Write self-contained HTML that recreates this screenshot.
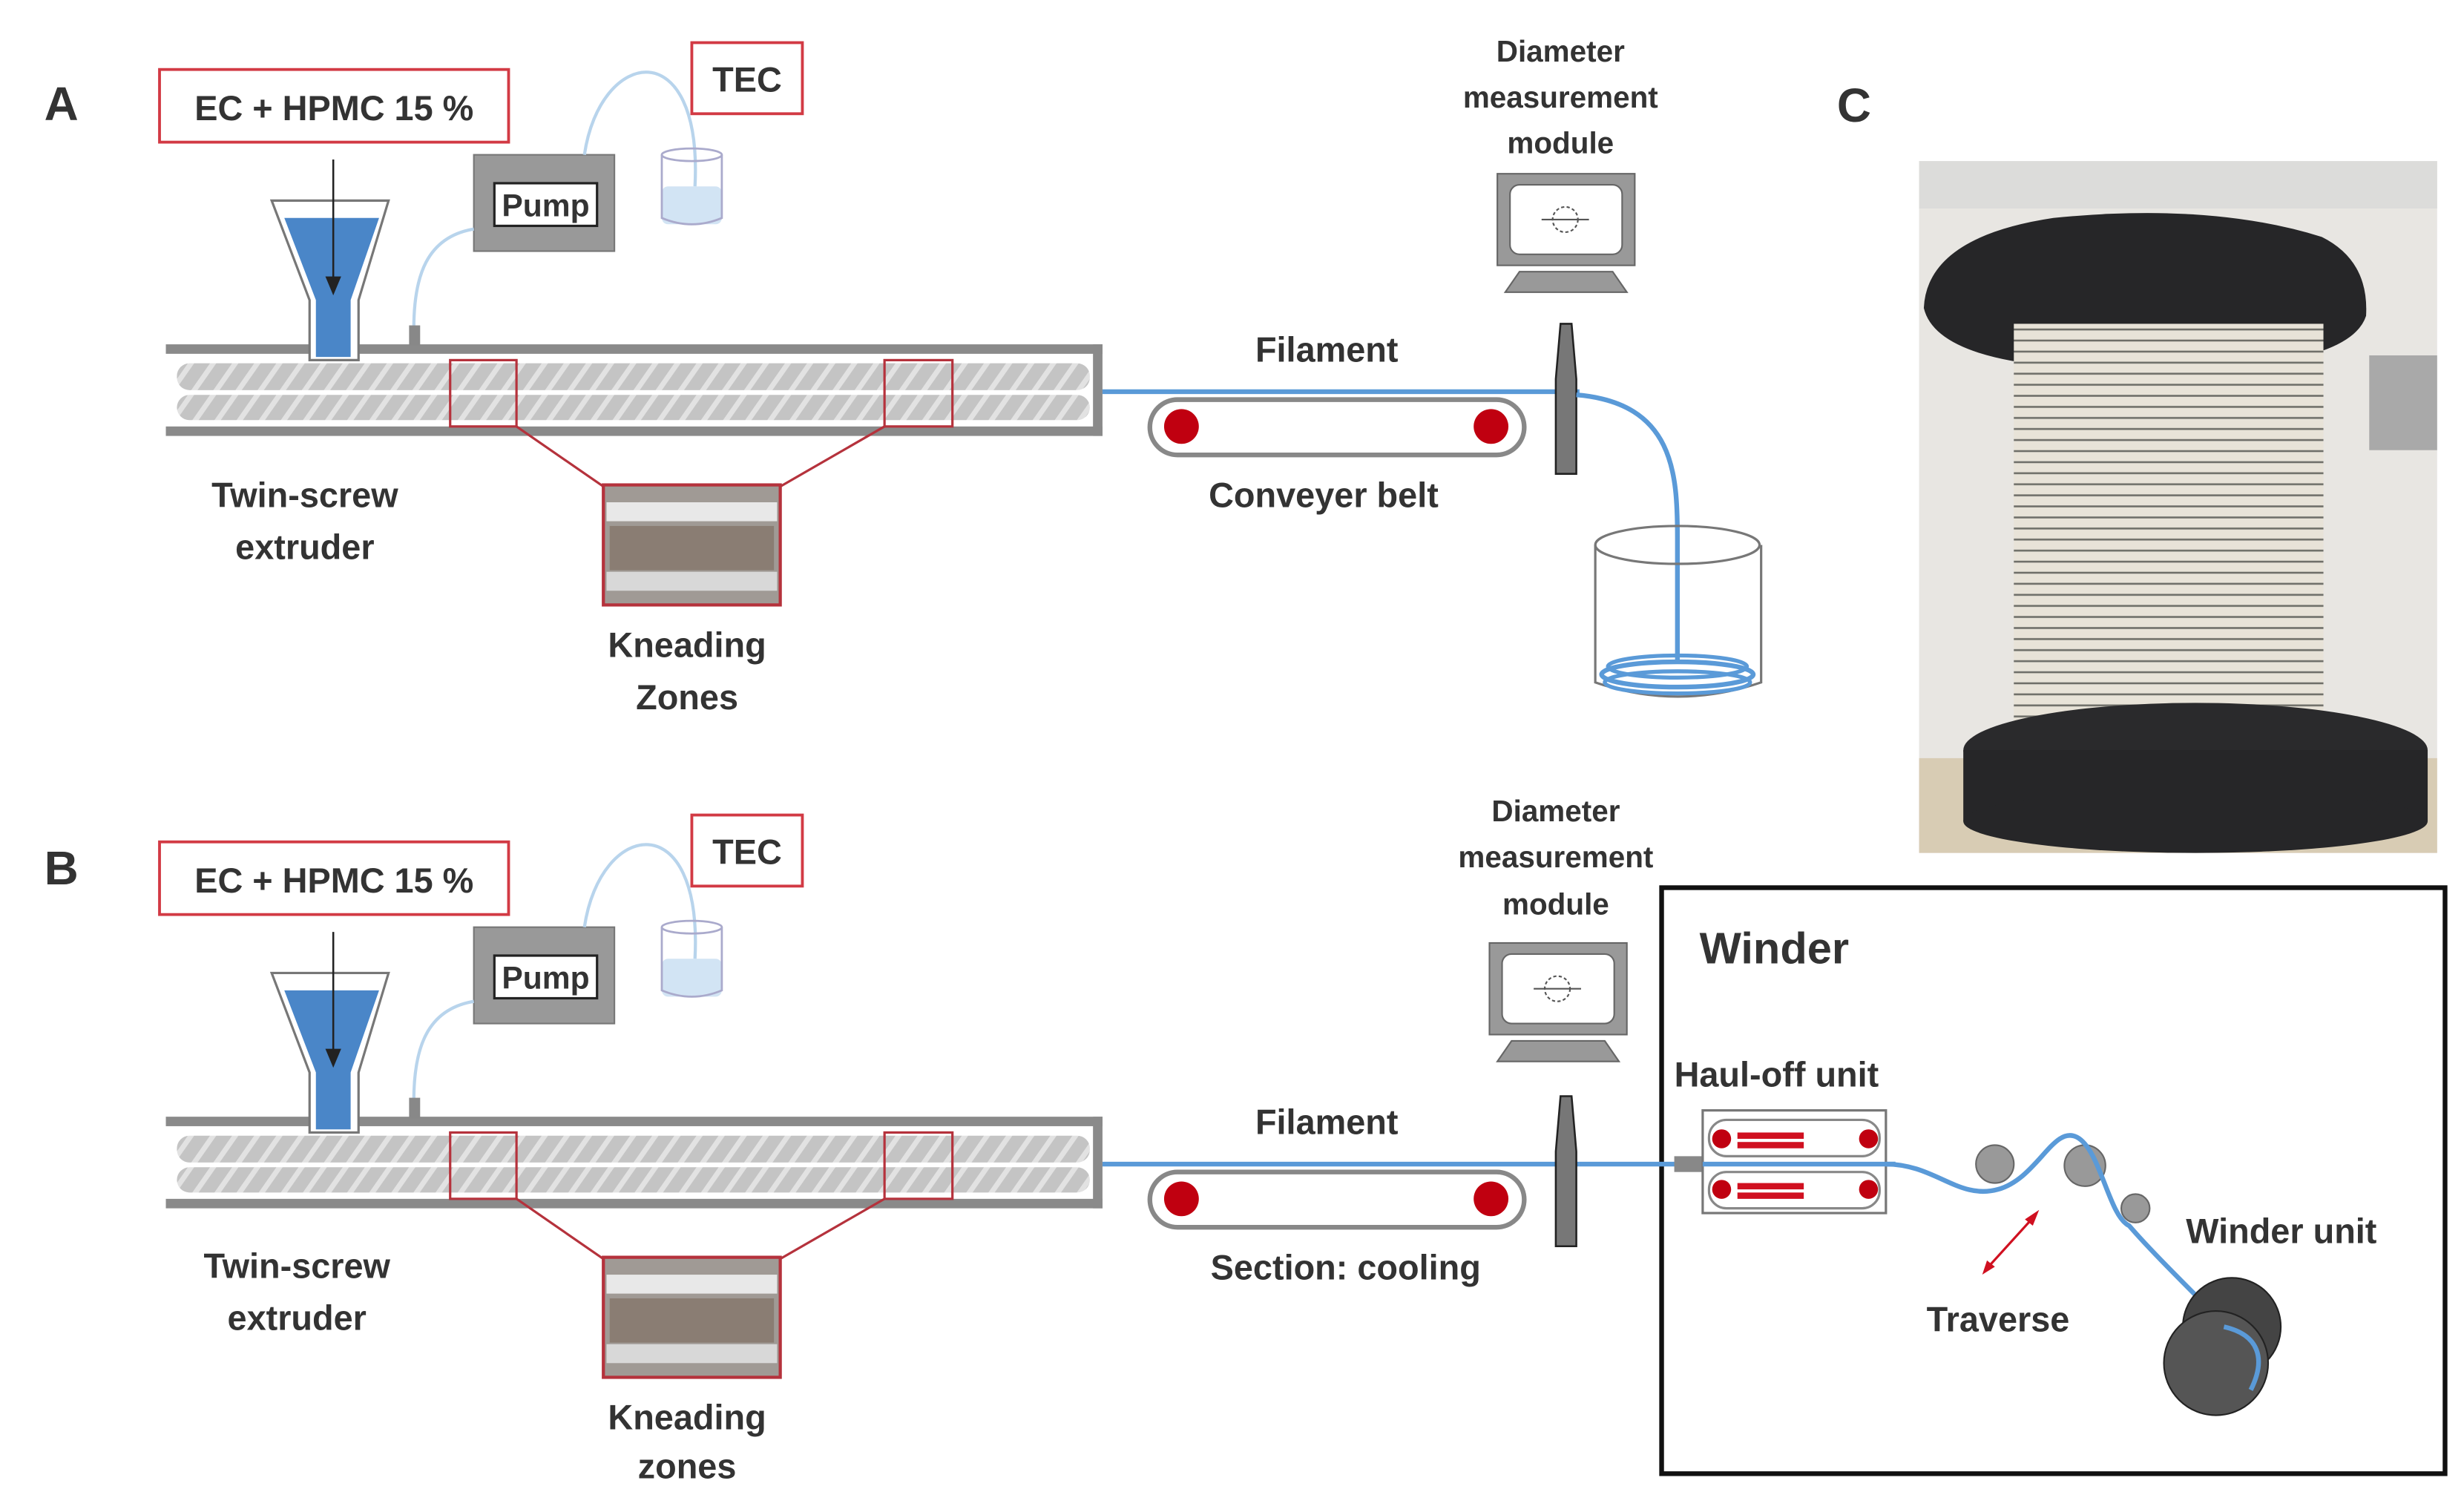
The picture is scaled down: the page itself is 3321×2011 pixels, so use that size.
<!DOCTYPE html>
<html><head><meta charset="utf-8"><style>
html,body{margin:0;padding:0;background:#fff}
svg{display:block}
text{font-family:"Liberation Sans",sans-serif;font-weight:bold;fill:#333}
</style></head><body>
<svg width="3321" height="2011" viewBox="0 0 1560 944.6" preserveAspectRatio="none" xmlns="http://www.w3.org/2000/svg">
<defs>
<pattern id="scr" width="14" height="17" patternUnits="userSpaceOnUse" patternTransform="skewX(-35)">
<rect width="14" height="17" fill="#c4c4c4"/><rect x="0" width="4" height="17" fill="#e2e2e2"/>
</pattern>
<pattern id="coil" width="10" height="7" patternUnits="userSpaceOnUse">
<rect width="10" height="7" fill="#e4dfd2"/><rect y="5" width="10" height="1.2" fill="#55554e"/>
</pattern>
<g id="ext">
<rect x="105" y="218" width="593" height="6" fill="#8a8a8a"/>
<rect x="105" y="270" width="593" height="6" fill="#8a8a8a"/>
<rect x="692" y="218" width="6" height="58" fill="#8a8a8a"/>
<rect x="112" y="230" width="578" height="17" rx="8" fill="url(#scr)"/>
<rect x="112" y="250" width="578" height="16" rx="8" fill="url(#scr)"/>
<rect x="285" y="228" width="42" height="42" fill="none" stroke="#b5323c" stroke-width="1.5"/>
<rect x="560" y="228" width="43" height="42" fill="none" stroke="#b5323c" stroke-width="1.5"/>
<line x1="327" y1="270" x2="382" y2="308" stroke="#b5323c" stroke-width="1.5"/>
<line x1="560" y1="270" x2="494" y2="308" stroke="#b5323c" stroke-width="1.5"/>
<rect x="382" y="307" width="112" height="76" fill="#a09a95" stroke="#b5323c" stroke-width="2"/>
<rect x="384" y="318" width="108" height="12" fill="#e8e8e8"/>
<rect x="386" y="333" width="104" height="28" fill="#8a7d73"/>
<rect x="384" y="362" width="108" height="12" fill="#d8d8d8"/>
<polygon points="172,127 246,127 227,190 227,228 196,228 196,190" fill="#fff" stroke="#777" stroke-width="1.5"/>
<polygon points="180,138 240,138 222,190 222,226 200,226 200,190" fill="#4a86c8"/>
<line x1="211" y1="101" x2="211" y2="178" stroke="#222" stroke-width="1.2"/>
<polygon points="206,175 216,175 211,187" fill="#222"/>
<rect x="300" y="98" width="89" height="61" fill="#999" stroke="#777"/>
<rect x="313" y="116" width="65" height="27" fill="#fff" stroke="#222" stroke-width="1.5"/>
<text x="345.5" y="137" font-size="20" text-anchor="middle" fill="#111">Pump</text>
<path d="M300,145 C270,150 262,175 262,208" fill="none" stroke="#b8d4ec" stroke-width="2"/>
<rect x="259" y="206" width="7" height="13" fill="#888"/>
<path d="M370,98 C380,30 445,20 440,118" fill="none" stroke="#b8d4ec" stroke-width="2"/>
<rect x="419" y="118" width="38" height="24" rx="4" fill="#d2e4f4"/>
<path d="M419,98 L419,138 Q438,146 457,138 L457,98" fill="none" stroke="#aac" stroke-width="1.3"/>
<ellipse cx="438" cy="98" rx="19" ry="4" fill="none" stroke="#aac" stroke-width="1.3"/>
<rect x="101" y="44" width="221" height="46" fill="#fff" stroke="#d23a44" stroke-width="1.8"/>
<text x="211.5" y="76" font-size="22" text-anchor="middle">EC + HPMC 15 %</text>
<rect x="438" y="27" width="70" height="45" fill="#fff" stroke="#d23a44" stroke-width="1.8"/>
<text x="473" y="58" font-size="22" text-anchor="middle">TEC</text>
<text x="435" y="416" font-size="22" text-anchor="middle">Kneading</text>
<line x1="698" y1="248" x2="1000" y2="248" stroke="#5a9ad8" stroke-width="3"/>
<text x="840" y="229" font-size="22" text-anchor="middle" fill="#4a86c8">Filament</text>
<rect x="728" y="253" width="237" height="35" rx="17.5" fill="#fff" stroke="#888" stroke-width="3"/>
<circle cx="748" cy="270" r="11" fill="#c00010"/>
<circle cx="944" cy="270" r="11" fill="#c00010"/>
<polygon points="988,205 995,205 998,240 998,300 985,300 985,240" fill="#777" stroke="#222" stroke-width="1.2"/>
</g>
</defs>

<text x="28" y="76" font-size="30">A</text>
<use href="#ext"/>
<text x="193" y="321" font-size="22" text-anchor="middle">Twin-screw</text>
<text x="193" y="354" font-size="22" text-anchor="middle">extruder</text>
<text x="435" y="449" font-size="22" text-anchor="middle">Zones</text>
<text x="838" y="321" font-size="22" text-anchor="middle">Conveyer belt</text>
<text x="988" y="39" font-size="19" text-anchor="middle">Diameter</text>
<text x="988" y="68" font-size="19" text-anchor="middle">measurement</text>
<text x="988" y="97" font-size="19" text-anchor="middle">module</text>
<rect x="948" y="110" width="87" height="58" fill="#999" stroke="#666"/>
<rect x="956" y="117" width="71" height="44" rx="6" fill="#fff" stroke="#666"/>
<circle cx="991" cy="139" r="8" fill="none" stroke="#555" stroke-dasharray="2 1.5"/>
<line x1="976" y1="139" x2="1006" y2="139" stroke="#555"/>
<polygon points="962,172 1021,172 1030,185 953,185" fill="#999" stroke="#666"/>
<path d="M998,250 C1060,255 1062,300 1062,340 L1062,420" fill="none" stroke="#5a9ad8" stroke-width="3"/>
<path d="M1010,345 L1010,432 Q1062,450 1115,432 L1115,345" fill="none" stroke="#777" stroke-width="1.5"/>
<ellipse cx="1062" cy="345" rx="52" ry="12" fill="none" stroke="#777" stroke-width="1.5"/>
<ellipse cx="1062" cy="427" rx="48" ry="8" fill="none" stroke="#5a9ad8" stroke-width="3"/>
<ellipse cx="1062" cy="422" rx="44" ry="7" fill="none" stroke="#5a9ad8" stroke-width="2.5"/>
<ellipse cx="1062" cy="432" rx="46" ry="7" fill="none" stroke="#5a9ad8" stroke-width="2.5"/>

<text x="1163" y="77" font-size="30">C</text>
<rect x="1215" y="102" width="328" height="438" fill="#e8e6e2"/>
<rect x="1215" y="102" width="328" height="30" fill="#dcdcda"/>
<rect x="1215" y="480" width="328" height="60" fill="#d8ccb4"/>
<rect x="1500" y="225" width="43" height="60" fill="#a9a9a9"/>
<path d="M1218,195 Q1220,150 1300,138 Q1400,128 1470,150 Q1500,165 1498,200 Q1490,225 1420,232 L1300,232 Q1225,225 1218,195 Z" fill="#262628"/>
<rect x="1275" y="205" width="196" height="255" fill="url(#coil)"/>
<rect x="1275" y="205" width="196" height="255" fill="#fff" opacity="0.15"/>
<ellipse cx="1390" cy="475" rx="147" ry="30" fill="#2a2a2c"/>
<rect x="1243" y="475" width="294" height="45" fill="#262628"/>
<ellipse cx="1390" cy="520" rx="147" ry="20" fill="#262628"/>

<text x="28" y="560" font-size="30">B</text>
<g transform="translate(0,489)"><use href="#ext"/></g>
<text x="188" y="809" font-size="22" text-anchor="middle">Twin-screw</text>
<text x="188" y="842" font-size="22" text-anchor="middle">extruder</text>
<text x="435" y="936" font-size="22" text-anchor="middle">zones</text>
<text x="852" y="810" font-size="22" text-anchor="middle">Section: cooling</text>
<text x="985" y="520" font-size="19" text-anchor="middle">Diameter</text>
<text x="985" y="549" font-size="19" text-anchor="middle">measurement</text>
<text x="985" y="579" font-size="19" text-anchor="middle">module</text>
<rect x="943" y="597" width="87" height="58" fill="#999" stroke="#666"/>
<rect x="951" y="604" width="71" height="44" rx="6" fill="#fff" stroke="#666"/>
<circle cx="986" cy="626" r="8" fill="none" stroke="#555" stroke-dasharray="2 1.5"/>
<line x1="971" y1="626" x2="1001" y2="626" stroke="#555"/>
<polygon points="957,659 1016,659 1025,672 948,672" fill="#999" stroke="#666"/>

<rect x="1052" y="562" width="496" height="371" fill="none" stroke="#111" stroke-width="3"/>
<text x="1076" y="610" font-size="28" fill="#222">Winder</text>
<text x="1060" y="688" font-size="22">Haul-off unit</text>
<line x1="1000" y1="737" x2="1200" y2="737" stroke="#5a9ad8" stroke-width="3"/>
<rect x="1060" y="732" width="18" height="10" fill="#888"/>
<rect x="1078" y="703" width="116" height="65" fill="#fff" stroke="#777" stroke-width="1.5"/>
<rect x="1082" y="709" width="108" height="23" rx="11" fill="#fff" stroke="#888" stroke-width="1.5"/>
<rect x="1082" y="742" width="108" height="23" rx="11" fill="#fff" stroke="#888" stroke-width="1.5"/>
<line x1="1078" y1="737" x2="1200" y2="737" stroke="#5a9ad8" stroke-width="3"/>
<circle cx="1090" cy="721" r="6" fill="#c00010"/><circle cx="1183" cy="721" r="6" fill="#c00010"/>
<circle cx="1090" cy="753" r="6" fill="#c00010"/><circle cx="1183" cy="753" r="6" fill="#c00010"/>
<rect x="1100" y="717" width="42" height="4" fill="#d01020"/><rect x="1100" y="723" width="42" height="4" fill="#d01020"/>
<rect x="1100" y="749" width="42" height="4" fill="#d01020"/><rect x="1100" y="755" width="42" height="4" fill="#d01020"/>
<circle cx="1263" cy="737" r="12" fill="#999" stroke="#666"/>
<circle cx="1320" cy="738" r="13" fill="#999" stroke="#666"/>
<circle cx="1352" cy="765" r="9" fill="#999" stroke="#666"/>
<path d="M1194,737 C1225,737 1240,760 1265,753 C1290,746 1300,712 1315,720 C1330,728 1335,770 1348,776 C1360,790 1380,810 1410,840" fill="none" stroke="#5a9ad8" stroke-width="3"/>
<circle cx="1413" cy="840" r="31" fill="#444" stroke="#222"/>
<circle cx="1403" cy="863" r="33" fill="#555" stroke="#222"/>
<path d="M1408,840 C1430,845 1435,860 1425,880" fill="none" stroke="#5a9ad8" stroke-width="3"/>
<text x="1384" y="787" font-size="22">Winder unit</text>
<text x="1265" y="843" font-size="22" text-anchor="middle">Traverse</text>
<line x1="1288" y1="770" x2="1258" y2="803" stroke="#d01020" stroke-width="1.5"/>
<polygon points="1291,766 1282,772 1287,776" fill="#d01020"/>
<polygon points="1255,807 1258,798 1263,802" fill="#d01020"/>
</svg>
</body></html>
